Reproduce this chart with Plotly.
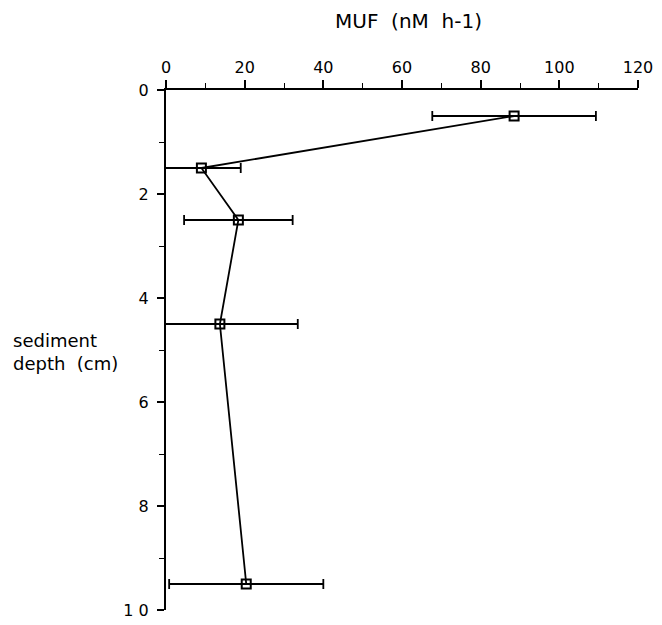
import plotly.graph_objects as go

depth = [0.5, 1.5, 2.5, 4.5, 9.5]
muf = [88.5, 9.0, 18.4, 13.7, 20.4]
muf_err = [20.8, 10.0, 13.8, 19.8, 19.6]

x_ticks = [0, 20, 40, 60, 80, 100, 120]
y_ticks = [0, 2, 4, 6, 8, 10]
y_ticktext = ["0", "2", "4", "6", "8", "1 0"]

fam = "DejaVu Sans, Liberation Sans, Arial, sans-serif"
tick_font = dict(family=fam, size=16, color="black")
title_font = dict(family=fam, size=20, color="black")
ylab_font = dict(family=fam, size=18, color="black")

fig = go.Figure()
fig.add_trace(go.Scatter(
    x=muf, y=depth, mode="lines+markers",
    line=dict(color="black", width=1.8),
    marker=dict(symbol="square-open", size=9, color="black", line=dict(width=2)),
    error_x=dict(type="data", array=muf_err, symmetric=True, color="black",
                 thickness=1.8, width=5),
    cliponaxis=False, showlegend=False,
))
fig.add_trace(go.Scatter(
    x=muf, y=depth, mode="markers",
    marker=dict(symbol="square", size=2, color="black"),
    showlegend=False, hoverinfo="skip",
))

fig.update_layout(
    width=654, height=617,
    margin=dict(l=158, r=24, t=82, b=15, autoexpand=False),
    paper_bgcolor="white", plot_bgcolor="white",
    font=tick_font,
    xaxis=dict(
        side="top", range=[0, 120], tickvals=x_ticks, showgrid=False, zeroline=False,
        automargin=False,
        showline=True, linecolor="black", linewidth=2,
        ticks="outside", ticklen=8, tickwidth=1.6, tickcolor="black",
        minor=dict(dtick=10, tick0=0, ticks="outside", ticklen=5, tickwidth=1.3, tickcolor="black"),
        tickfont=tick_font, ticklabelstandoff=1,
    ),
    yaxis=dict(
        range=[10, 0], tickvals=y_ticks, ticktext=y_ticktext, showgrid=False, zeroline=False,
        automargin=False,
        showline=True, linecolor="black", linewidth=2,
        ticks="outside", ticklen=7, tickwidth=1.6, tickcolor="black",
        minor=dict(dtick=1, tick0=0, ticks="outside", ticklen=5, tickwidth=1.3, tickcolor="black"),
        tickfont=tick_font, ticklabelstandoff=5,
    ),
    annotations=[
        dict(text="MUF&nbsp;&nbsp;(nM&nbsp;&nbsp;h-1)", xref="paper", yref="paper",
             x=0.513, y=1, yshift=69, showarrow=False, font=title_font,
             xanchor="center", yanchor="middle"),
        dict(text="sediment<br>depth&nbsp;&nbsp;(cm)", xref="paper", yref="paper",
             x=-0.329, y=0.496, showarrow=False, font=ylab_font, xanchor="left",
             yanchor="middle", align="left"),
    ],
)

fig.write_html("out.html")
